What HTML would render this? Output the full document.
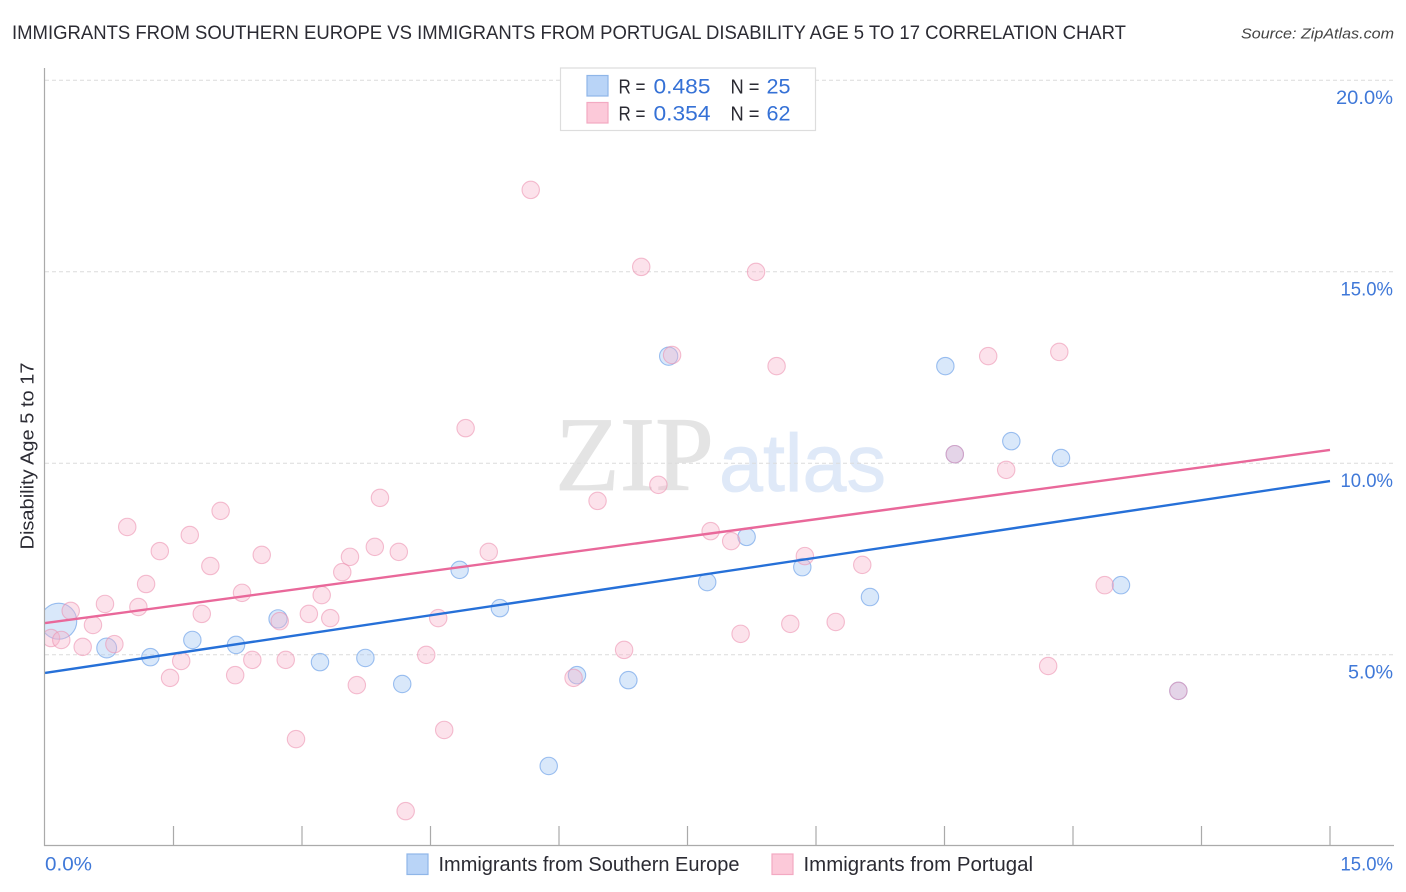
<!DOCTYPE html>
<html lang="en">
<head>
<meta charset="utf-8">
<title>Immigrants from Southern Europe vs Immigrants from Portugal Disability Age 5 to 17 Correlation Chart</title>
<style>
html,body{margin:0;padding:0;background:#fff;width:1406px;height:892px;overflow:hidden}
svg{display:block;font-family:"Liberation Sans",sans-serif}
</style>
</head>
<body>
<svg id="chart" width="1406" height="892" viewBox="0 0 1406 892" xmlns="http://www.w3.org/2000/svg">
  <defs><clipPath id="plot-clip"><rect x="45" y="60" width="1349" height="786"/></clipPath></defs>
  <text x="12" y="39" font-size="19" fill="#2b2b33" textLength="1114" lengthAdjust="spacingAndGlyphs">IMMIGRANTS FROM SOUTHERN EUROPE VS IMMIGRANTS FROM PORTUGAL DISABILITY AGE 5 TO 17 CORRELATION CHART</text>
  <text x="1394" y="38.5" font-size="15" font-style="italic" fill="#444" text-anchor="end" textLength="153" lengthAdjust="spacingAndGlyphs">Source: ZipAtlas.com</text>

  <g>
    <text x="555" y="490" font-family="'Liberation Serif',serif" font-size="106" fill="#e4e4e4" stroke="#e4e4e4" stroke-width="0.8" textLength="159" lengthAdjust="spacingAndGlyphs">ZIP</text>
    <text x="719" y="491" font-size="82" fill="#dfe9f8" stroke="#dfe9f8" stroke-width="0.8" textLength="167" lengthAdjust="spacingAndGlyphs">atlas</text>
  </g>

  <g id="grid"></g>
  <g id="points" clip-path="url(#plot-clip)"></g>
  <g id="trends"></g>

  <line x1="44.5" y1="68" x2="44.5" y2="846" stroke="#aaa" stroke-width="1.2"/>
  <line x1="44" y1="845.5" x2="1394" y2="845.5" stroke="#aaa" stroke-width="1.2"/>
  <g id="xticks"></g>
  <g id="ylabels"></g>
  <g id="xlabels"></g>

  <text transform="translate(33.5 456) rotate(-90)" font-size="18" fill="#2b2b33" text-anchor="middle" textLength="187" lengthAdjust="spacingAndGlyphs">Disability Age 5 to 17</text>

  <g>
    <rect x="560.5" y="68" width="255" height="62.5" fill="#fff" stroke="#ddd" stroke-width="1.2"/>
    <rect x="587" y="75.5" width="21" height="20.5" fill="#b9d4f7" stroke="#8fb6e8" stroke-width="1.2"/>
    <rect x="587" y="102.5" width="21" height="20.5" fill="#fcc9d9" stroke="#f3a9c2" stroke-width="1.2"/>
    <text x="618.5" y="93.5" font-size="20" fill="#2b2b33" textLength="27" lengthAdjust="spacingAndGlyphs">R =</text>
    <text x="653.5" y="93.5" font-size="21" fill="#3571d6" textLength="57" lengthAdjust="spacingAndGlyphs">0.485</text>
    <text x="730.5" y="93.5" font-size="20" fill="#2b2b33" textLength="29" lengthAdjust="spacingAndGlyphs">N =</text>
    <text x="766.5" y="93.5" font-size="21" fill="#3571d6" textLength="24" lengthAdjust="spacingAndGlyphs">25</text>
    <text x="618.5" y="120.5" font-size="20" fill="#2b2b33" textLength="27" lengthAdjust="spacingAndGlyphs">R =</text>
    <text x="653.5" y="120.5" font-size="21" fill="#3571d6" textLength="57" lengthAdjust="spacingAndGlyphs">0.354</text>
    <text x="730.5" y="120.5" font-size="20" fill="#2b2b33" textLength="29" lengthAdjust="spacingAndGlyphs">N =</text>
    <text x="766.5" y="120.5" font-size="21" fill="#3571d6" textLength="24" lengthAdjust="spacingAndGlyphs">62</text>
  </g>

  <g>
    <g>
      <rect x="407" y="854" width="21" height="20.5" fill="#b9d4f7" stroke="#8fb6e8" stroke-width="1.2"/>
      <text x="438.5" y="871" font-size="20" fill="#2b2b33" textLength="301" lengthAdjust="spacingAndGlyphs">Immigrants from Southern Europe</text>
    </g>
    <g>
      <rect x="772" y="854" width="21" height="20.5" fill="#fcc9d9" stroke="#f3a9c2" stroke-width="1.2"/>
      <text x="803.5" y="871" font-size="20" fill="#2b2b33" textLength="229.5" lengthAdjust="spacingAndGlyphs">Immigrants from Portugal</text>
    </g>
  </g>
</svg>
<script>
const yTicks = [5, 10, 15, 20];
const yTickLabels = ['5.0%', '10.0%', '15.0%', '20.0%'];
const xTicks = [1.5, 3, 4.5, 6, 7.5, 9, 10.5, 12, 13.5, 15];
const xEndTicks = [0, 15];
const xEndLabels = ['0.0%', '15.0%'];

const europeX = [0.16,0.72,1.23,1.72,2.23,2.72,3.21,3.74,4.17,4.84,5.31,5.88,6.21,6.81,7.28,7.73,8.19,8.84,9.63,10.51,11.28,11.86,12.56,10.62,13.23];
const europeY = [5.87,5.17,4.93,5.38,5.25,5.93,4.80,4.91,4.23,7.21,6.21,2.09,4.46,4.33,12.79,6.89,8.07,7.28,6.50,12.53,10.57,10.13,6.81,10.23,4.05];
const europeWeight = [4.3,1.3,1,1,1,1.1,1,1,1,1,1,1,1,1,1.1,1,1,1,1,1,1,1,1,1,1];

const portugalX = [0.07,0.19,0.30,0.44,0.56,0.70,0.81,0.96,1.09,1.18,1.34,1.46,1.59,1.69,1.83,1.93,2.05,2.22,2.30,2.42,2.53,2.74,2.81,2.93,3.08,3.23,3.33,3.47,3.56,3.64,3.85,3.91,4.13,4.21,4.45,4.59,4.66,4.91,5.18,5.67,6.17,6.45,6.76,6.96,7.16,7.32,7.77,8.01,8.12,8.30,8.54,8.70,8.87,9.23,9.54,10.62,11.01,11.22,11.71,11.84,12.37,13.23];
const portugalY = [5.43,5.38,6.14,5.20,5.77,6.32,5.27,8.33,6.24,6.84,7.70,4.39,4.83,8.12,6.06,7.31,8.75,4.46,6.61,4.86,7.60,5.87,4.86,2.79,6.06,6.55,5.95,7.15,7.55,4.20,7.81,9.09,7.68,0.91,4.99,5.95,3.03,10.91,7.68,17.13,4.39,9.01,5.12,15.12,9.43,12.82,8.22,7.96,5.54,14.99,12.53,5.80,7.57,5.85,7.34,10.23,12.79,9.82,4.70,12.90,6.81,4.05];

const europeTrendX = [0, 15];
const europeTrendY = [4.52, 9.53];
const portugalTrendX = [0, 15];
const portugalTrendY = [5.82, 10.34];

const SVGNS = 'http://www.w3.org/2000/svg';
function xScale(v) { return 45 + v * (1285 / 15); }
function yScale(v) { return 846 - v * 38.3; }
function rScale(w) { return 8.7 * Math.sqrt(w); }
function labelWidth(s) { return s.length === 5 ? (s.charAt(0) === '1' ? 52.5 : 57) : 45; }
function make(tag, parent, attrs) {
  const el = document.createElementNS(SVGNS, tag);
  for (const k in attrs) el.setAttribute(k, attrs[k]);
  parent.appendChild(el);
  return el;
}

const grid = document.getElementById('grid');
const ylabels = document.getElementById('ylabels');
yTicks.forEach(function (v, i) {
  const g = make('line', grid, {x1: 45, x2: 1394, y1: yScale(v) + 0.3, y2: yScale(v) + 0.3, stroke: '#dcdcdc', 'stroke-width': 1, 'stroke-dasharray': '4 3'});
  
  
  const t = make('text', ylabels, {x: 1393, y: yScale(v) + 24, 'font-size': 19.5, fill: '#3f78d8', 'text-anchor': 'end', textLength: labelWidth(yTickLabels[i]), lengthAdjust: 'spacingAndGlyphs'});
  t.textContent = yTickLabels[i];
  
  
});

const xticks = document.getElementById('xticks');
xTicks.forEach(function (v) {
  const t = make('line', xticks, {x1: xScale(v), x2: xScale(v), y1: 826, y2: 846, stroke: '#aaa', 'stroke-width': 1.2});
  
  
});

const xlabels = document.getElementById('xlabels');
xEndTicks.forEach(function (v, i) {
  const t = make('text', xlabels, {x: i === 0 ? xScale(v) : 1393, y: 870.5, 'font-size': 19.5, fill: '#3f78d8', 'text-anchor': i === 0 ? 'start' : 'end', textLength: i === 0 ? 47 : 52.5, lengthAdjust: 'spacingAndGlyphs'});
  t.textContent = xEndLabels[i];
  
  
});

const points = document.getElementById('points');
europeX.forEach(function (v, i) {
  const c = make('circle', points, {cx: xScale(v), cy: yScale(europeY[i]), r: rScale(europeWeight[i]), fill: 'rgba(165,200,243,0.42)', stroke: 'rgba(100,155,230,0.62)', 'stroke-width': 1.1});
  
  
});
portugalX.forEach(function (v, i) {
  const c = make('circle', points, {cx: xScale(v), cy: yScale(portugalY[i]), r: 8.7, fill: 'rgba(248,180,202,0.38)', stroke: 'rgba(236,145,176,0.58)', 'stroke-width': 1.1});
  
  
});

const trends = document.getElementById('trends');
const europeLine = make('line', trends, {x1: xScale(europeTrendX[0]), y1: yScale(europeTrendY[0]), x2: xScale(europeTrendX[1]), y2: yScale(europeTrendY[1]), stroke: '#2670d8', 'stroke-width': 2.4});


const portugalLine = make('line', trends, {x1: xScale(portugalTrendX[0]), y1: yScale(portugalTrendY[0]), x2: xScale(portugalTrendX[1]), y2: yScale(portugalTrendY[1]), stroke: '#e9689a', 'stroke-width': 2.4});


</script>
</body>
</html>
